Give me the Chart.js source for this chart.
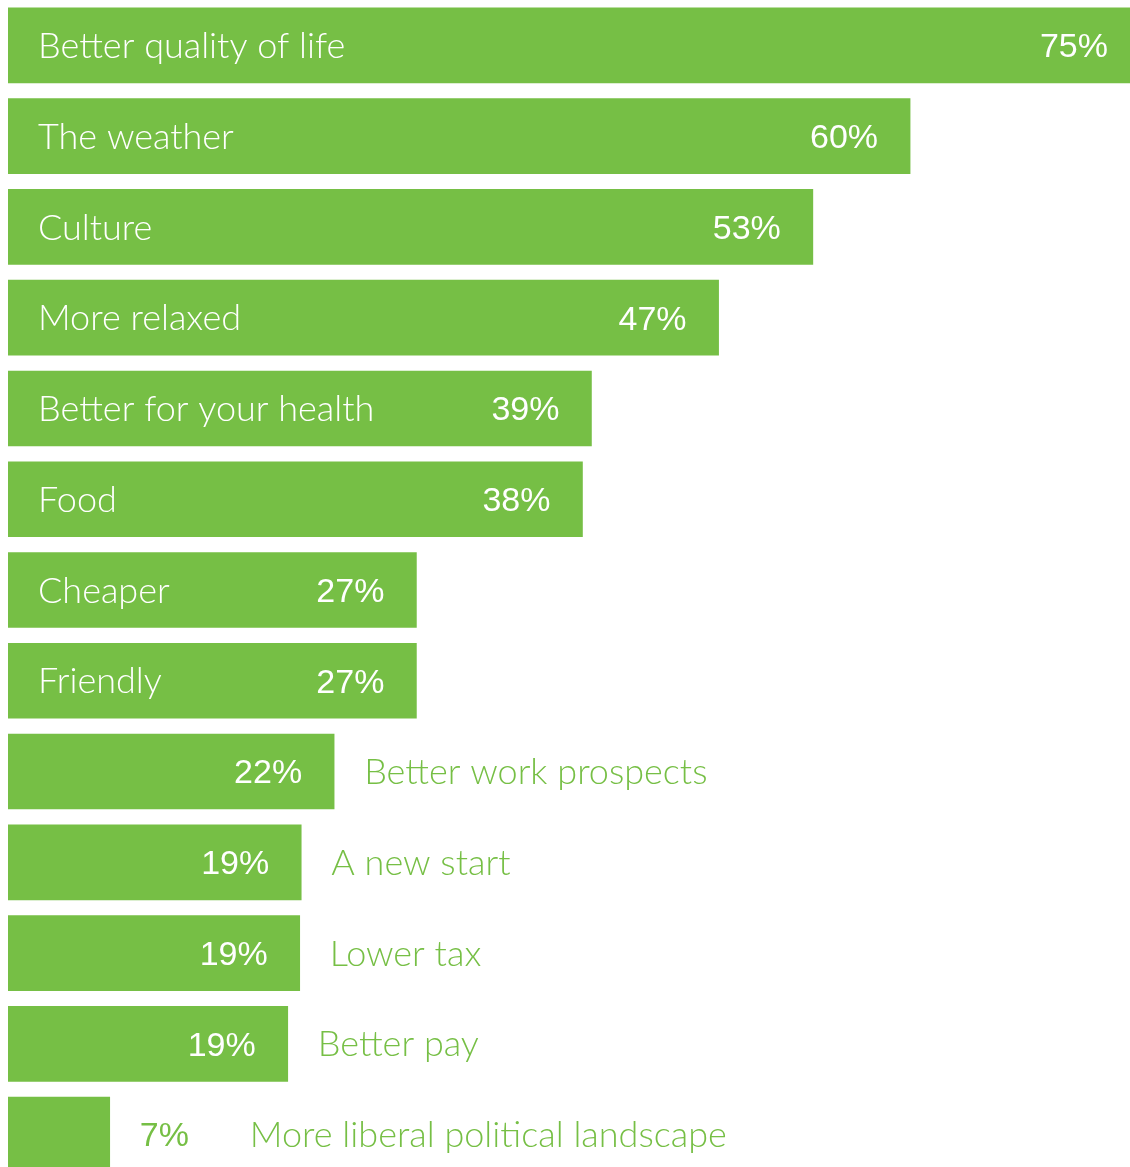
<!DOCTYPE html>
<html>
<head>
<meta charset="utf-8">
<script src="https://cdn.jsdelivr.net/npm/chart.js@4"></script>
<style>
    html, body { margin: 0; padding: 0; background: #fff; overflow: hidden; }
    #wrap { position: absolute; left: 0; top: 0; width: 1130px; height: 1180px; }
</style>
</head>
<body>
<div id="wrap"><canvas id="reasons" width="1130" height="1180"></canvas></div>
<script>
    "use strict";

    // categories, top to bottom
    const reasons = [
        'Better quality of life', 'The weather', 'Culture', 'More relaxed',
        'Better for your health', 'Food', 'Cheaper', 'Friendly',
        'Better work prospects', 'A new start', 'Lower tax', 'Better pay',
        'More liberal political landscape'
    ];

    // bar lengths (%)
    const shares = [75, 60.3, 53.8, 47.5, 39, 38.4, 27.3, 27.3, 21.8, 19.6, 19.5, 18.7, 6.8];

    // printed value labels
    const shareLabels = ['75%', '60%', '53%', '47%', '39%', '38%', '27%', '27%', '22%', '19%', '19%', '19%', '7%'];

    const GREEN = '#76bf45';
    const nameFont = '300 36px Lato';
    const pctFont = '34px "Liberation Sans", Arial, sans-serif';

    // draws names and percentages inside or beside the bars
    const barLabels = {
        id: 'barLabels',
        afterDatasetsDraw(chart) {
            const ctx = chart.ctx;
            const meta = chart.getDatasetMeta(0);
            ctx.save();
            ctx.textBaseline = 'middle';
            meta.data.forEach((bar, i) => {
                const left = bar.base;
                const right = bar.x;
                const y = bar.y + 1;
                const py = bar.y + 2.5;
                const width = right - left;

                ctx.font = nameFont;
                const nameW = ctx.measureText(reasons[i]).width;
                ctx.font = pctFont;
                const pctW = ctx.measureText(shareLabels[i]).width;
                // the full-width bar keeps its label a bit closer to the edge
                const pctX = right - (right >= chart.chartArea.right - 1 ? 22 : 32);

                if (width > 30 + nameW + 40 + pctW + 32) {
                    ctx.fillStyle = '#fff';
                    ctx.textAlign = 'right';
                    ctx.fillText(shareLabels[i], pctX, py);
                    ctx.font = nameFont;
                    ctx.textAlign = 'left';
                    ctx.fillText(reasons[i], left + 30, y);
                } else if (width > pctW + 64) {
                    ctx.fillStyle = '#fff';
                    ctx.textAlign = 'right';
                    ctx.fillText(shareLabels[i], pctX, py);
                    ctx.font = nameFont;
                    ctx.fillStyle = GREEN;
                    ctx.textAlign = 'left';
                    ctx.fillText(reasons[i], right + 30, y);
                } else {
                    ctx.fillStyle = GREEN;
                    ctx.textAlign = 'left';
                    ctx.fillText(shareLabels[i], right + 30, py);
                    ctx.font = nameFont;
                    ctx.fillText(reasons[i], right + 30 + pctW + 61, y);
                }
            });
            ctx.restore();
        }
    };

    new Chart(document.getElementById('reasons'), {
        type: 'bar',
        data: {
            labels: reasons,
            datasets: [{
                data: shares,
                backgroundColor: GREEN,
                borderWidth: 0,
                barThickness: 75
            }]
        },
        options: {
            indexAxis: 'y',
            responsive: false,
            animation: false,
            layout: { padding: { left: 8, right: 0, top: 0, bottom: 0 } },
            plugins: {
                legend: { display: false },
                tooltip: { enabled: false }
            },
            scales: {
                x: { min: 0, max: 75, display: false },
                y: { display: false }
            }
        },
        plugins: [barLabels]
    });
</script>
</body>
</html>
